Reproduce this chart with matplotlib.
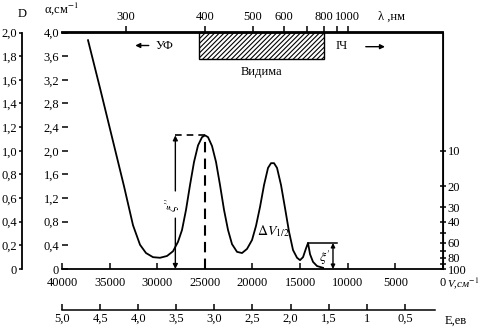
import numpy as np
import matplotlib
matplotlib.use("Agg")
import matplotlib.pyplot as plt
from matplotlib.patches import Rectangle
from matplotlib.ticker import FixedLocator, FixedFormatter

plt.rcParams['font.family'] = ['Liberation Serif', 'DejaVu Serif']
plt.rcParams['mathtext.fontset'] = 'stix'
plt.rcParams['font.size'] = 9
plt.rcParams['hatch.linewidth'] = 0.8

# absorption spectrum: wavenumber (cm^-1) and absorption coefficient alpha
nu = [37270, 36010, 34750, 33490, 32545, 31810, 31180, 30445, 29710, 28975,
      28345, 27820, 27400, 26980, 26560, 26140, 25720, 25300, 24985, 24670,
      24250, 23830, 23410, 22990, 22570, 22150, 21625, 21100, 20575, 20050,
      19630, 19210, 18790, 18370, 18055, 17740, 17425, 17005, 16585, 16165,
      15745, 15325, 15010, 14695, 14380, 14170, 13960, 13645, 13225, 12595]
alpha = [3.87, 3.06, 2.23, 1.40, 0.74, 0.41, 0.27, 0.20, 0.19, 0.22,
         0.30, 0.46, 0.66, 1.00, 1.42, 1.81, 2.09, 2.23, 2.26, 2.23,
         2.08, 1.81, 1.42, 1.00, 0.66, 0.42, 0.29, 0.27, 0.34, 0.49,
         0.73, 1.05, 1.42, 1.71, 1.79, 1.79, 1.71, 1.42, 1.03, 0.63,
         0.32, 0.19, 0.15, 0.20, 0.35, 0.44, 0.25, 0.12, 0.05, 0.02]

nu_ticks = [40000, 35000, 30000, 25000, 20000, 15000, 10000, 5000, 0]
nu_labels = ['40000', '35000', '30000', '25000', '20000', '15000', '10000', '5000', '0']
alpha_ticks = [0, 0.4, 0.8, 1.2, 1.6, 2.0, 2.4, 2.8, 3.2, 3.6, 4.0]
alpha_labels = ['0', '0,4', '0,8', '1,2', '1,6', '2,0', '2,4', '2,8', '3,2', '3,6', '4,0']
d_ticks = [0, 0.2, 0.4, 0.6, 0.8, 1.0, 1.2, 1.4, 1.6, 1.8, 2.0]
d_labels = ['0', '0,2', '0,4', '0,6', '0,8', '1,0', '1,2', '1,4', '1,6', '1,8', '2,0']
lam_ticks = [300, 400, 500, 600, 700, 800, 900, 1000]
lam_labels = ['300', '400', '500', '600', '', '800', '', '1000']
e_ticks = [5.0, 4.5, 4.0, 3.5, 3.0, 2.5, 2.0, 1.5, 1.0, 0.5]
e_labels = ['5,0', '4,5', '4,0', '3,5', '3,0', '2,5', '2,0', '1,5', '1', '0,5']
t_ticks = [10, 20, 30, 40, 50, 60, 70, 80, 90, 100]
t_labels = ['10', '20', '30', '40', '', '60', '', '80', '', '100']

visible_lam = (390, 800)
CM_PER_EV = 8000  # rounded conversion used for the energy scale


def nu_to_lam(x):
    x = np.asarray(x, dtype=float)
    return 1e7 / np.maximum(x, 1.0)


def alpha_to_t(a):
    return 100 * 10 ** (-np.asarray(a, dtype=float) / 2)


def t_to_alpha(t):
    t = np.clip(np.asarray(t, dtype=float), 1e-6, None)
    return -2 * np.log10(t / 100)


W, H = 479, 327
fig = plt.figure(figsize=(W / 100, H / 100), dpi=100)
ax = fig.add_axes([62 / W, 58 / H, 381 / W, 236.5 / H])
ax.set_xlim(40000, 0)
ax.set_ylim(0, 4.0)

ax.plot(nu, alpha, color='k', lw=1.3)

for s in ['top', 'right', 'bottom']:
    ax.spines[s].set_linewidth(1.3)
ax.spines['left'].set_visible(False)

ax.set_xticks(nu_ticks)
ax.set_xticklabels(nu_labels)
ax.set_yticks(alpha_ticks)
ax.set_yticklabels(alpha_labels)
ax.tick_params(axis='x', direction='in', length=4, width=1.1, pad=6, labelsize=9)
ax.tick_params(axis='y', direction='in', length=4, width=1.1, pad=2, labelsize=9)

# wavelength scale on top
secl = ax.secondary_xaxis('top', functions=(nu_to_lam, nu_to_lam))
secl.xaxis.set_major_locator(FixedLocator(lam_ticks))
secl.xaxis.set_major_formatter(FixedFormatter(lam_labels))
secl.xaxis.set_minor_locator(FixedLocator([]))
secl.tick_params(direction='out', length=4.5, width=1.1, pad=2, labelsize=9)
secl.spines['top'].set_linewidth(1.3)

# photon energy scale below
sece = ax.secondary_xaxis(-0.172, functions=(lambda x: np.asarray(x) / CM_PER_EV,
                                             lambda e: np.asarray(e) * CM_PER_EV))
sece.xaxis.set_major_locator(FixedLocator(e_ticks))
sece.xaxis.set_major_formatter(FixedFormatter(e_labels))
sece.xaxis.set_minor_locator(FixedLocator([]))
sece.tick_params(direction='in', length=4, width=1.1, pad=2.5, labelsize=9)
sece.spines['bottom'].set_linewidth(1.1)
sece.spines['bottom'].set_bounds(0.1, 5.0)

# optical density scale on the far left
secd = ax.secondary_yaxis(-0.105, functions=(lambda a: np.asarray(a) / 2,
                                             lambda d: np.asarray(d) * 2))
secd.yaxis.set_major_locator(FixedLocator(d_ticks))
secd.yaxis.set_major_formatter(FixedFormatter(d_labels))
secd.yaxis.set_minor_locator(FixedLocator([]))
secd.tick_params(direction='out', length=2.5, width=1.1, pad=1, labelsize=9)
secd.spines['left'].set_linewidth(1.3)

# transmission scale on the right
sect = ax.secondary_yaxis('right', functions=(alpha_to_t, t_to_alpha))
sect.yaxis.set_major_locator(FixedLocator(t_ticks))
sect.yaxis.set_major_formatter(FixedFormatter(t_labels))
sect.yaxis.set_minor_locator(FixedLocator([]))
sect.tick_params(direction='inout', length=5, width=1.1, pad=1, labelsize=9)

# visible band
v_hi, v_lo = 1e7 / visible_lam[0], 1e7 / visible_lam[1]
ax.add_patch(Rectangle((v_lo, 3.56), v_hi - v_lo, 0.44, facecolor='white',
                       edgecolor='k', hatch='///////', lw=1.0))
ax.text((v_hi + v_lo) / 2, 3.33, 'Видима', ha='center', va='center', fontsize=9)
ax.text(30200, 3.78, 'УФ', ha='left', va='center', fontsize=9)
ax.text(11300, 3.78, 'ІЧ', ha='left', va='center', fontsize=9)
ax.annotate('', xy=(32600, 3.78), xytext=(30600, 3.78),
            arrowprops=dict(arrowstyle='-|>', color='k', lw=1, mutation_scale=7))
ax.annotate('', xy=(5800, 3.76), xytext=(8400, 3.76),
            arrowprops=dict(arrowstyle='-|>', color='k', lw=1, mutation_scale=7))

nu_arr = np.array(nu)
alpha_arr = np.array(alpha)

# main band height
band1 = np.where((nu_arr > 22000) & (nu_arr < 27000))[0]
i1 = band1[np.argmax(alpha_arr[band1])]
p_nu, p_a = nu_arr[i1], alpha_arr[i1]
x_arr = 28100
ax.plot([x_arr, p_nu], [p_a, p_a], 'k--', lw=1.2, dashes=(4, 3))
ax.plot([p_nu, p_nu], [0, p_a], 'k--', lw=1.5, dashes=(5, 3))
ax.annotate('', xy=(x_arr, p_a), xytext=(x_arr, 1.32),
            arrowprops=dict(arrowstyle='-|>', color='k', lw=1, mutation_scale=7,
                            shrinkA=0, shrinkB=0))
ax.annotate('', xy=(x_arr, 0), xytext=(x_arr, 0.86),
            arrowprops=dict(arrowstyle='-|>', color='k', lw=1, mutation_scale=7,
                            shrinkA=0, shrinkB=0))
ax.text(x_arr + 250, 1.08, r"$\xi''$", rotation=90, ha='center', va='center',
        fontsize=10)

# small band near the absorption edge
band2 = np.where((nu_arr > 13000) & (nu_arr < 14600))[0]
i2 = band2[np.argmax(alpha_arr[band2])]
s_nu, s_a = nu_arr[i2], alpha_arr[i2]
ax.plot([s_nu, 11100], [s_a, s_a], color='k', lw=1.1)
ax.annotate('', xy=(11550, s_a), xytext=(11550, 0),
            arrowprops=dict(arrowstyle='<|-|>', color='k', lw=1, mutation_scale=6,
                            shrinkA=0, shrinkB=0))
ax.text(12400, 0.2, r"$\xi'$", ha='center', va='center', fontsize=10)

ax.text(17850, 0.64, r'$\Delta V_{1/2}$', ha='center', va='center', fontsize=10)

# axis captions
fig.text(22 / W, 1 - 14 / H, 'D', ha='center', va='center', fontsize=9)
fig.text(44 / W, 1 - 9 / H, 'α,см$^{-1}$', ha='left', va='center', fontsize=9)
fig.text(378 / W, 1 - 17 / H, 'λ ,нм', ha='left', va='center', fontsize=9)
fig.text(447 / W, 1 - 284 / H, 'V,см$^{-1}$', ha='left', va='center', fontsize=8,
         style='italic')
fig.text(445 / W, 1 - 321 / H, 'E,ев', ha='left', va='center', fontsize=9)

fig.savefig('out.png', dpi=100)
